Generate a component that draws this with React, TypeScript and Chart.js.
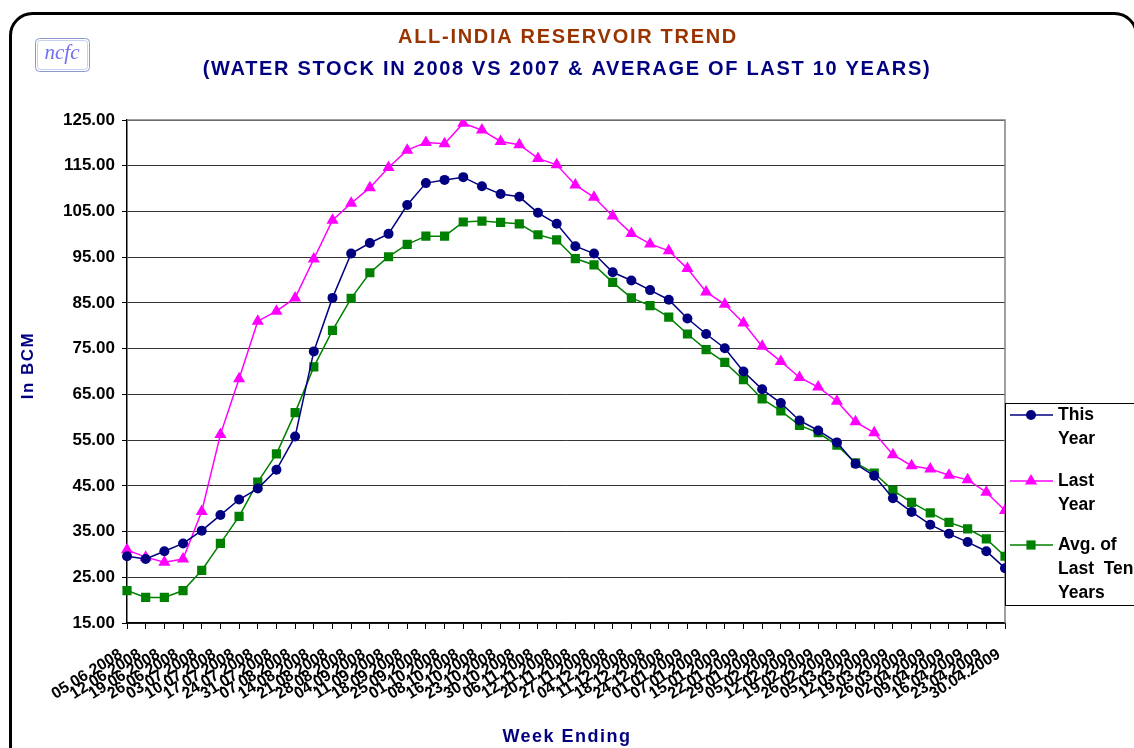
import React, { useEffect, useRef } from 'react';
import { Chart, registerables } from 'chart.js';

Chart.register(...registerables);

const weekLabels = [
  '05.06.2008', '12.06.2008', '19.06.2008', '26.06.2008', '03.07.2008', '10.07.2008',
  '17.07.2008', '24.07.2008', '31.07.2008', '07.08.2008', '14.08.2008', '21.08.2008',
  '28.08.2008', '04.09.2008', '11.09.2008', '18.09.2008', '25.09.2008', '01.10.2008',
  '08.10.2008', '16.10.2008', '23.10.2008', '30.10.2008', '06.11.2008', '12.11.2008',
  '20.11.2008', '27.11.2008', '04.12.2008', '11.12.2008', '18.12.2008', '24.12.2008',
  '01.01.2009', '07.01.2009', '15.01.2009', '22.01.2009', '29.01.2009', '05.02.2009',
  '12.02.2009', '19.02.2009', '26.02.2009', '05.03.2009', '12.03.2009', '19.03.2009',
  '26.03.2009', '02.04.2009', '09.04.2009', '16.04.2009', '23.04.2009', '30.04.2009',
];

const thisYear = [
  29.6, 29.0, 30.7, 32.4, 35.2, 38.6, 42.0, 44.4, 48.5, 55.8, 74.4, 86.1,
  95.8, 98.1, 100.1, 106.4, 111.2, 111.9, 112.5, 110.5, 108.8, 108.2, 104.7, 102.3,
  97.4, 95.8, 91.7, 89.9, 87.8, 85.7, 81.6, 78.2, 75.1, 70.0, 66.1, 63.1,
  59.3, 57.1, 54.5, 49.8, 47.2, 42.3, 39.3, 36.5, 34.5, 32.7, 30.7, 27.0,
];

const lastYear = [
  31.0, 29.4, 28.3, 29.0, 39.4, 56.2, 68.4, 81.0, 83.2, 86.1, 94.6, 103.1,
  106.8, 110.2, 114.6, 118.4, 120.1, 119.8, 124.3, 122.8, 120.3, 119.6, 116.6, 115.2,
  110.8, 108.1, 104.0, 100.2, 97.9, 96.4, 92.5, 87.4, 84.7, 80.6, 75.5, 72.2,
  68.7, 66.6, 63.5, 59.0, 56.6, 51.8, 49.4, 48.7, 47.3, 46.3, 43.6, 39.6,
];

const avgTenYears = [
  22.1, 20.6, 20.6, 22.1, 26.5, 32.4, 38.3, 45.8, 52.0, 61.0, 71.0, 79.0,
  86.0, 91.6, 95.1, 97.8, 99.6, 99.6, 102.7, 102.9, 102.6, 102.3, 99.9, 98.8,
  94.7, 93.3, 89.5, 86.1, 84.4, 81.9, 78.2, 74.8, 72.0, 68.2, 64.0, 61.4,
  58.2, 56.6, 53.9, 50.0, 47.8, 44.0, 41.4, 39.1, 37.0, 35.6, 33.4, 29.6,
];

const seriesNames = [['This', 'Year'], ['Last', 'Year'], ['Avg. of', 'Last  Ten', 'Years']];
const titleText = 'ALL-INDIA RESERVOIR TREND';
const subtitleText = '(WATER STOCK IN 2008 VS 2007 & AVERAGE OF LAST 10 YEARS)';
const yAxisTitle = 'In BCM';
const xAxisTitle = 'Week Ending';
const yMin = 15;
const yMax = 125;
const yStep = 10;

const NAVY = '#000080';
const MAGENTA = '#FF00FF';
const GREEN = '#008000';
const FONT = '"Liberation Sans", Arial, sans-serif';

function drawMarker(ctx: CanvasRenderingContext2D, style: string, x: number, y: number, r: number, color: string) {
  ctx.save();
  ctx.fillStyle = color;
  ctx.beginPath();
  if (style === 'circle') {
    ctx.arc(x, y, r, 0, Math.PI * 2);
  } else if (style === 'triangle') {
    ctx.moveTo(x, y - r);
    ctx.lineTo(x + r * 0.866, y + r * 0.5);
    ctx.lineTo(x - r * 0.866, y + r * 0.5);
    ctx.closePath();
  } else {
    const s = r * Math.SQRT1_2;
    ctx.rect(x - s, y - s, 2 * s, 2 * s);
  }
  ctx.fill();
  ctx.restore();
}

const decorPlugin = {
  id: 'decor',
  beforeDraw(chart: any) {
    const ctx = chart.ctx as CanvasRenderingContext2D;
    ctx.save();
    ctx.fillStyle = '#ffffff';
    ctx.fillRect(0, 0, chart.width, chart.height);
    ctx.restore();
  },
  beforeDatasetsDraw(chart: any) {
    const ctx = chart.ctx as CanvasRenderingContext2D;
    const { left, right, top, bottom } = chart.chartArea;
    ctx.save();
    ctx.strokeStyle = '#808080';
    ctx.lineWidth = 1.5;
    ctx.beginPath();
    ctx.moveTo(left, top);
    ctx.lineTo(right, top);
    ctx.lineTo(right, bottom);
    ctx.stroke();
    ctx.restore();
  },
  afterDraw(chart: any) {
    const ctx = chart.ctx as CanvasRenderingContext2D;
    const { top, bottom } = chart.chartArea;
    ctx.save();

    // outer rounded frame
    ctx.strokeStyle = '#000000';
    ctx.lineWidth = 3;
    ctx.beginPath();
    (ctx as any).roundRect(10.5, 13.5, 1126, 780, 22);
    ctx.stroke();

    // titles
    ctx.textAlign = 'center';
    ctx.textBaseline = 'middle';
    (ctx as any).letterSpacing = '1.7px';
    ctx.font = `bold 20px ${FONT}`;
    ctx.fillStyle = '#993300';
    ctx.fillText(titleText, 568, 37);
    ctx.fillStyle = NAVY;
    ctx.fillText(subtitleText, 567, 69);

    // axis titles
    (ctx as any).letterSpacing = '1.5px';
    ctx.font = `bold 18px ${FONT}`;
    ctx.fillText(xAxisTitle, 567, 737);
    ctx.save();
    ctx.translate(28, (top + bottom) / 2 - 6);
    ctx.rotate(-Math.PI / 2);
    ctx.font = `bold 17px ${FONT}`;
    ctx.fillText(yAxisTitle, 0, 0);
    ctx.restore();
    (ctx as any).letterSpacing = '0px';

    // logo
    ctx.strokeStyle = '#8a9ad0';
    ctx.lineWidth = 1;
    ctx.beginPath();
    (ctx as any).roundRect(35.5, 38.5, 54, 33, 4);
    ctx.stroke();
    ctx.strokeStyle = '#c8d0f0';
    ctx.beginPath();
    (ctx as any).roundRect(37.5, 40.5, 50, 29, 3);
    ctx.stroke();
    ctx.fillStyle = '#7070f0';
    ctx.font = `italic 21px "Liberation Serif", "DejaVu Serif", serif`;
    ctx.textAlign = 'center';
    ctx.fillText('ncfc', 62, 53);

    // legend
    const lx = 1005;
    const ly = 403;
    ctx.fillStyle = '#ffffff';
    ctx.fillRect(lx, ly, 140, 202);
    ctx.strokeStyle = '#000000';
    ctx.lineWidth = 1;
    ctx.strokeRect(lx + 0.5, ly + 0.5, 140, 202);
    const items = [
      { color: NAVY, style: 'circle', r: 5, y: 415 },
      { color: MAGENTA, style: 'triangle', r: 7, y: 481 },
      { color: GREEN, style: 'rect', r: 6.5, y: 545 },
    ];
    ctx.font = `bold 17.5px ${FONT}`;
    ctx.textAlign = 'left';
    ctx.textBaseline = 'middle';
    items.forEach((it, i) => {
      ctx.strokeStyle = it.color;
      ctx.lineWidth = 1.5;
      ctx.beginPath();
      ctx.moveTo(1010, it.y);
      ctx.lineTo(1053, it.y);
      ctx.stroke();
      drawMarker(ctx, it.style, 1031, it.y, it.r, it.color);
      ctx.fillStyle = '#000000';
      seriesNames[i].forEach((line, j) => {
        ctx.fillText(line, 1058, it.y + j * 24);
      });
    });
    ctx.restore();
  },
};

export default function App() {
  const canvasRef = useRef<HTMLCanvasElement | null>(null);

  useEffect(() => {
    if (!canvasRef.current) return;
    const chart = new Chart(canvasRef.current, {
      type: 'line',
      data: {
        labels: weekLabels,
        datasets: [
          {
            label: 'This Year',
            data: thisYear,
            borderColor: NAVY,
            backgroundColor: NAVY,
            borderWidth: 1.5,
            pointStyle: 'circle',
            pointRadius: 5,
            pointBorderWidth: 0,
            tension: 0,
          },
          {
            label: 'Last Year',
            data: lastYear,
            borderColor: MAGENTA,
            backgroundColor: MAGENTA,
            borderWidth: 1.5,
            pointStyle: 'triangle',
            pointRadius: 7,
            pointBorderWidth: 0,
            tension: 0,
          },
          {
            label: 'Avg. of Last Ten Years',
            data: avgTenYears,
            borderColor: GREEN,
            backgroundColor: GREEN,
            borderWidth: 1.5,
            pointStyle: 'rect',
            pointRadius: 6.5,
            pointBorderWidth: 0,
            tension: 0,
          },
        ],
      },
      options: {
        responsive: false,
        animation: false,
        layout: { padding: { left: 0, right: 129, top: 120, bottom: 0 } },
        plugins: {
          legend: { display: false },
          title: { display: false },
          tooltip: { enabled: false },
        },
        scales: {
          x: {
            type: 'category',
            offset: false,
            afterFit: (scale: any) => { scale.height = 125; },
            grid: {
              drawOnChartArea: false,
              drawTicks: true,
              tickLength: 6,
              color: '#000000',
            },
            border: { display: true, color: '#000000', width: 1.5 },
            ticks: {
              autoSkip: false,
              maxRotation: 32,
              minRotation: 32,
              padding: 16,
              labelOffset: -6,
              color: '#000000',
              font: { family: FONT, size: 16, weight: 'bold' },
            },
          },
          y: {
            min: yMin,
            max: yMax,
            afterFit: (scale: any) => { scale.width = 127; },
            grid: {
              color: '#333333',
              lineWidth: 1,
              drawTicks: true,
              tickLength: 5,
              tickColor: '#000000',
            },
            border: { display: true, color: '#000000', width: 1.5 },
            ticks: {
              stepSize: yStep,
              padding: 7,
              color: '#000000',
              font: { family: FONT, size: 17, weight: 'bold' },
              callback: (v: any) => Number(v).toFixed(2),
            },
          },
        },
      } as any,
      plugins: [decorPlugin],
    });
    return () => chart.destroy();
  }, []);

  return (
    <div style={{ position: 'fixed', left: 0, top: 0, width: 1134, height: 748, background: '#fff' }}>
      <canvas ref={canvasRef} width={1134} height={748} style={{ display: 'block' }} />
    </div>
  );
}
